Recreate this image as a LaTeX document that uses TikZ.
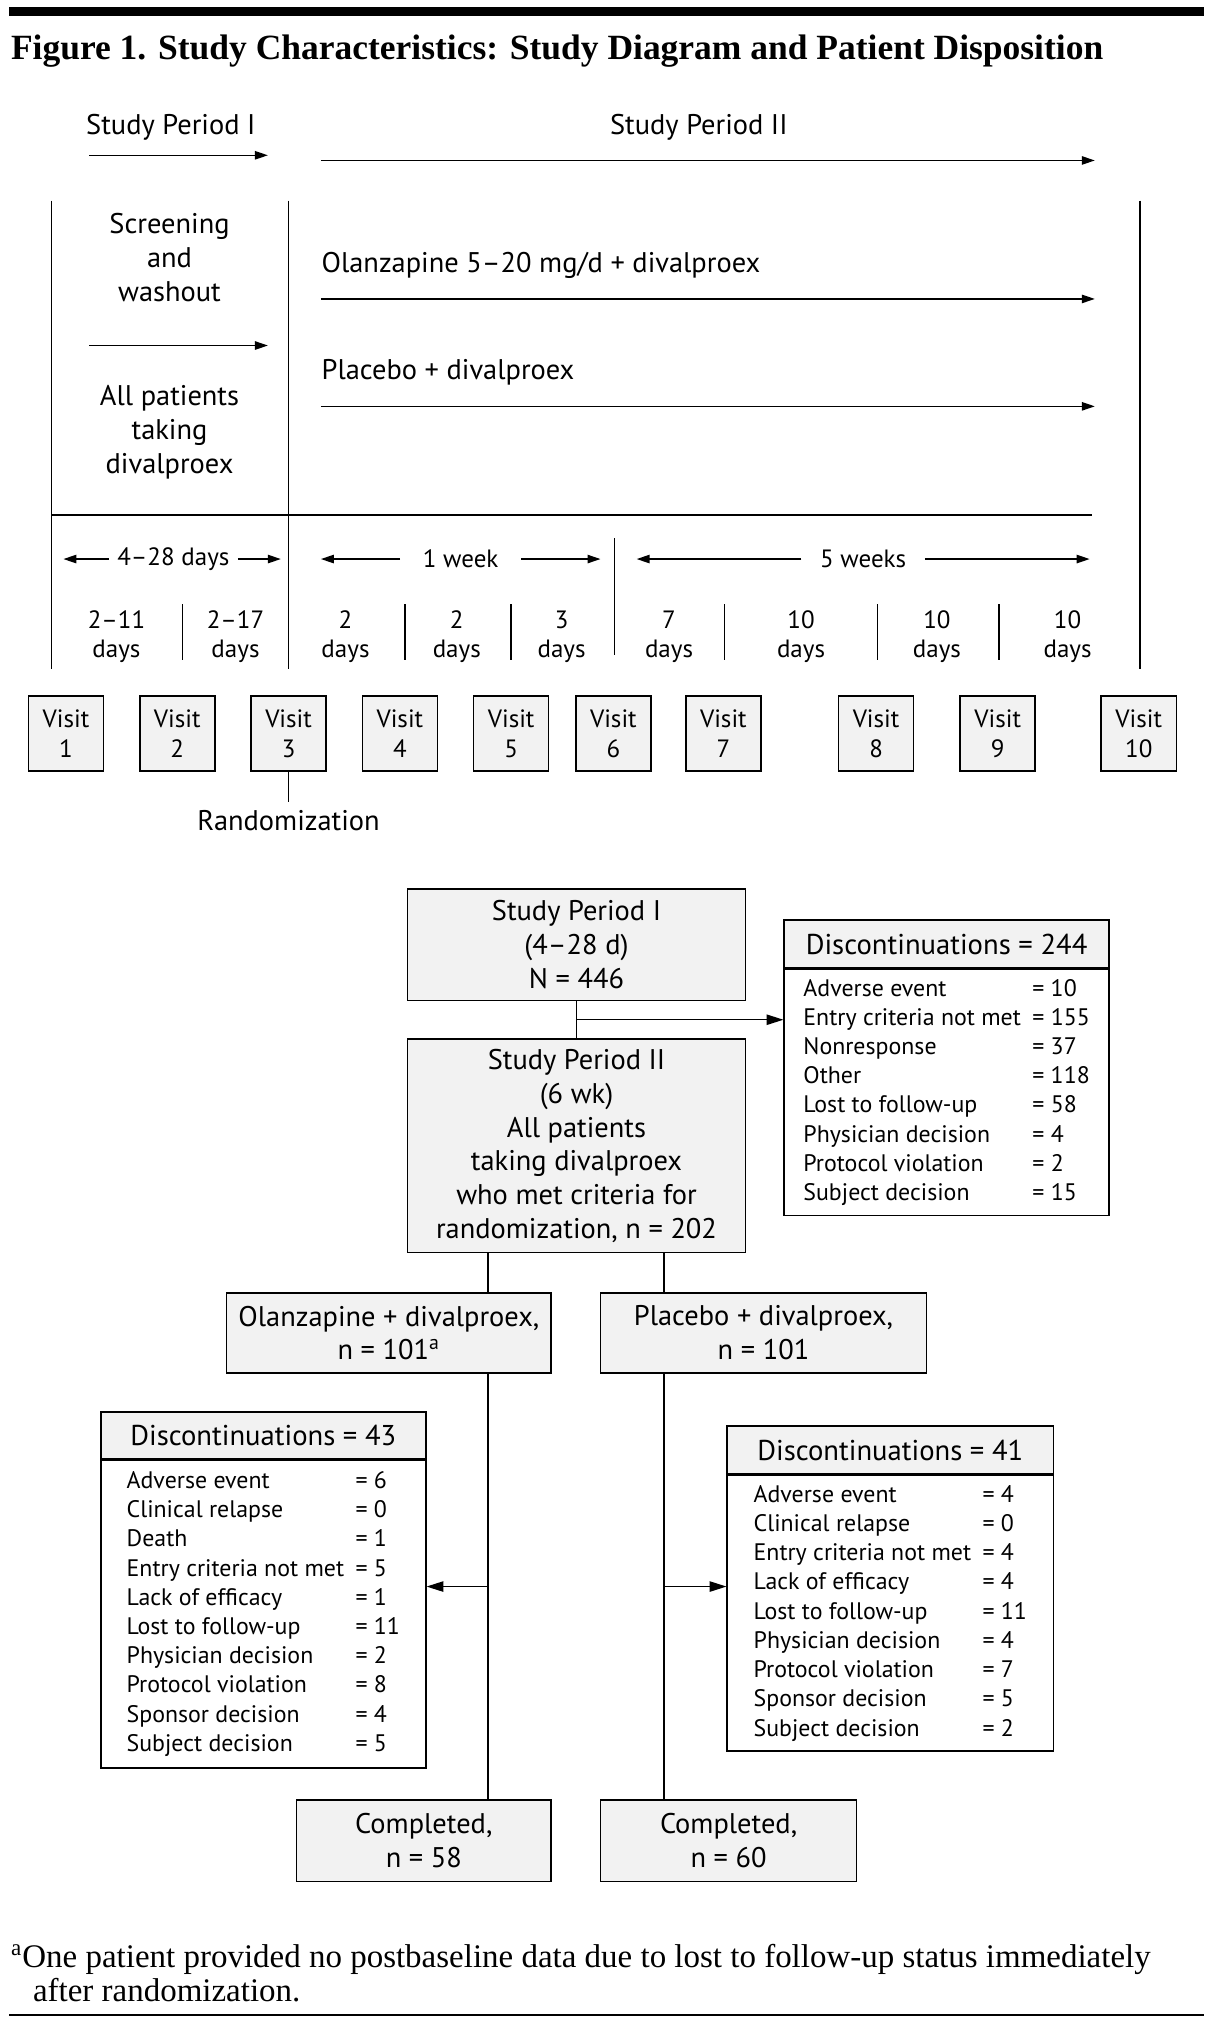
\documentclass[tikz,border=0pt]{standalone}
\usepackage{fontspec}
\setmainfont{Liberation Serif}
\newfontfamily\diagfont{PT Sans}
\usetikzlibrary{arrows.meta,positioning}
\definecolor{boxgray}{gray}{0.95}

\newcommand{\disclist}[1]{\begin{tabular}{@{}l@{\hspace{5pt}}l@{}}#1\end{tabular}}

\tikzset{
  every node/.style={font=\diagfont\fontsize{12.5}{14.8}\selectfont},
  smalltext/.style={font=\diagfont\fontsize{11}{12.5}\selectfont},
  arr/.style={-{Triangle[length=2mm,width=1.3mm]}},
  flowarr/.style={-{Triangle[length=2.6mm,width=1.6mm]}},
  flowbox/.style={draw, fill=boxgray, line width=0.7pt, align=center, inner sep=0pt},
  visitbox/.style={flowbox, minimum width=1.16cm, minimum height=1.16cm,
    font=\diagfont\fontsize{11}{13.1}\selectfont},
  dayslbl/.style={smalltext, align=center, inner sep=0pt},
  dischead/.style={draw, fill=boxgray, line width=0.7pt, inner sep=0pt,
    font=\diagfont\fontsize{12.6}{14.8}\selectfont},
  discbody/.style={draw, fill=white, line width=0.7pt, inner sep=0pt,
    font=\diagfont\fontsize{10.5}{12.86}\selectfont},
  serifnote/.style={inner sep=0pt, font=\rmfamily\fontsize{14.5}{17}\selectfont},
}

\begin{document}
\begin{tikzpicture}[x=0.2mm, y=-0.2mm, line width=0.6pt]
  \useasboundingbox (0,0) rectangle (935,1565.6);

  % heading
  \draw[line width=0.14cm] (7,9) -- (930,9);
  \node[inner sep=0pt, anchor=base west, font=\rmfamily\bfseries\fontsize{15.6}{18}\selectfont] (title) at (8,46)
    {Figure 1. Study Characteristics: Study Diagram and Patient Disposition};

  % study design
  \node (per1) at (132,98) {Study Period I};
  \node (per2) at (540,98) {Study Period II};
  \draw[arr] (69,120) -- (207,120);
  \draw[arr] (248,124) -- (846,124);

  \draw (40,155) -- (40,517);
  \draw (223,155) -- (223,517);
  \draw (881,155) -- (881,517);
  \draw (40,398) -- (844,398);
  \draw (475,416) -- (475,506);

  \node[align=center] (screen) at (131,199) {Screening\\and\\washout};
  \draw[arr] (69,267) -- (207,267);
  \node[align=center] (allpat) at (131,334) {All patients\\taking\\divalproex};

  \node[anchor=west, inner sep=0pt] (olzarm) at (248,205) {Olanzapine 5–20 mg/d + divalproex};
  \draw[arr] (248,231) -- (846,231);
  \node[anchor=west, inner sep=0pt] (plaarm) at (248,288) {Placebo + divalproex};
  \draw[arr] (248,314) -- (846,314);

  % durations
  \foreach \cx/\txt/\gap/\lb/\rb [count=\k] in {134/4–28 days/1.2mm/49/217,
      356/1 week/3.4mm/248/464, 667/5 weeks/2.8mm/492/842}{
    \node[smalltext, inner ysep=0pt, inner xsep=\gap] (span\k) at (\cx,432) {\txt};
    \draw[arr] (span\k.west) -- (\lb,432);
    \draw[arr] (span\k.east) -- (\rb,432);
  }
  \foreach \x/\t in {90/2–11, 182/2–17, 267/2, 353/2, 434/3, 517/7, 619/10, 724/10, 825/10}
    \node[dayslbl] at (\x,492) {\t\\days};
  \foreach \x in {141,313,395,560,678,772}
    \draw (\x,467) -- (\x,510);

  % visits
  \foreach \x [count=\i] in {51,137,223,309,395,474,559,677,771,880}
    \node[visitbox] (v\i) at (\x,567) {Visit\\\i};
  \node (rand) at (223,634) {Randomization};
  \draw (v3.south) -- (rand.north);

  % disposition
  \node[flowbox, minimum width=5.22cm, minimum height=1.72cm] (sp1) at (445.5,730)
    {Study Period I\\(4–28 d)\\N = 446};
  \node[flowbox, minimum width=5.22cm, minimum height=3.3cm] (sp2) at (445.5,885.5)
    {Study Period II\\(6 wk)\\All patients\\taking divalproex\\who met criteria for\\randomization, n = 202};

  \node[dischead, minimum width=5.02cm, minimum height=0.74cm] (d244h) at (731.5,729.5)
    {Discontinuations = 244};
  \node[discbody, minimum width=5.02cm, minimum height=3.8cm, below=0pt of d244h] (d244)
    {\disclist{Adverse event & = 10\\ Entry criteria not met & = 155\\ Nonresponse & = 37\\
      Other & = 118\\ Lost to follow-up & = 58\\ Physician decision & = 4\\
      Protocol violation & = 2\\ Subject decision & = 15}};

  \draw (sp1.south) -- (sp2.north);
  \coordinate (split0) at (445.5,788);
  \draw[flowarr] (split0) -- (split0 -| d244.west);

  \node[flowbox, minimum width=5.02cm, minimum height=1.24cm] (olz) at (300.5,1030)
    {Olanzapine + divalproex,\\n = 101\textsuperscript{a}};
  \node[flowbox, minimum width=5.04cm, minimum height=1.24cm] (pla) at (590,1030)
    {Placebo + divalproex,\\n = 101};

  \coordinate (split1) at (377,1226);
  \coordinate (split2) at (513,1226);
  \draw (sp2.south -| split1) -- (olz.north -| split1);
  \draw (sp2.south -| split2) -- (pla.north -| split2);

  \node[dischead, minimum width=5.02cm, minimum height=0.72cm] (d43h) at (203.5,1109)
    {Discontinuations = 43};
  \node[discbody, minimum width=5.02cm, minimum height=4.76cm, below=0pt of d43h] (d43)
    {\disclist{Adverse event & = 6\\ Clinical relapse & = 0\\ Death & = 1\\
      Entry criteria not met & = 5\\ Lack of efficacy & = 1\\ Lost to follow-up & = 11\\
      Physician decision & = 2\\ Protocol violation & = 8\\ Sponsor decision & = 4\\
      Subject decision & = 5}};

  \node[dischead, minimum width=5.04cm, minimum height=0.74cm] (d41h) at (688,1120.5)
    {Discontinuations = 41};
  \node[discbody, minimum width=5.04cm, minimum height=4.26cm, below=0pt of d41h] (d41)
    {\disclist{Adverse event & = 4\\ Clinical relapse & = 0\\ Entry criteria not met & = 4\\
      Lack of efficacy & = 4\\ Lost to follow-up & = 11\\ Physician decision & = 4\\
      Protocol violation & = 7\\ Sponsor decision & = 5\\ Subject decision & = 2}};

  \node[flowbox, minimum width=3.94cm, minimum height=1.26cm] (done1) at (327.5,1422.5)
    {Completed,\\n = 58};
  \node[flowbox, minimum width=3.96cm, minimum height=1.26cm] (done2) at (563,1422.5)
    {Completed,\\n = 60};

  \draw (olz.south -| split1) -- (done1.north -| split1);
  \draw[flowarr] (split1) -- (split1 -| d43.east);
  \draw (pla.south -| split2) -- (done2.north -| split2);
  \draw[flowarr] (split2) -- (split2 -| d41.west);

  % footnote
  \node[serifnote, anchor=base west] (fn1) at (8,1520)
    {\textsuperscript{a}One patient provided no postbaseline data due to lost to follow-up status immediately};
  \node[serifnote, anchor=base west] (fn2) at (25,1547) {after randomization.};
  \draw[line width=0.04cm] (7,1557) -- (930,1557);
\end{tikzpicture}
\end{document}
